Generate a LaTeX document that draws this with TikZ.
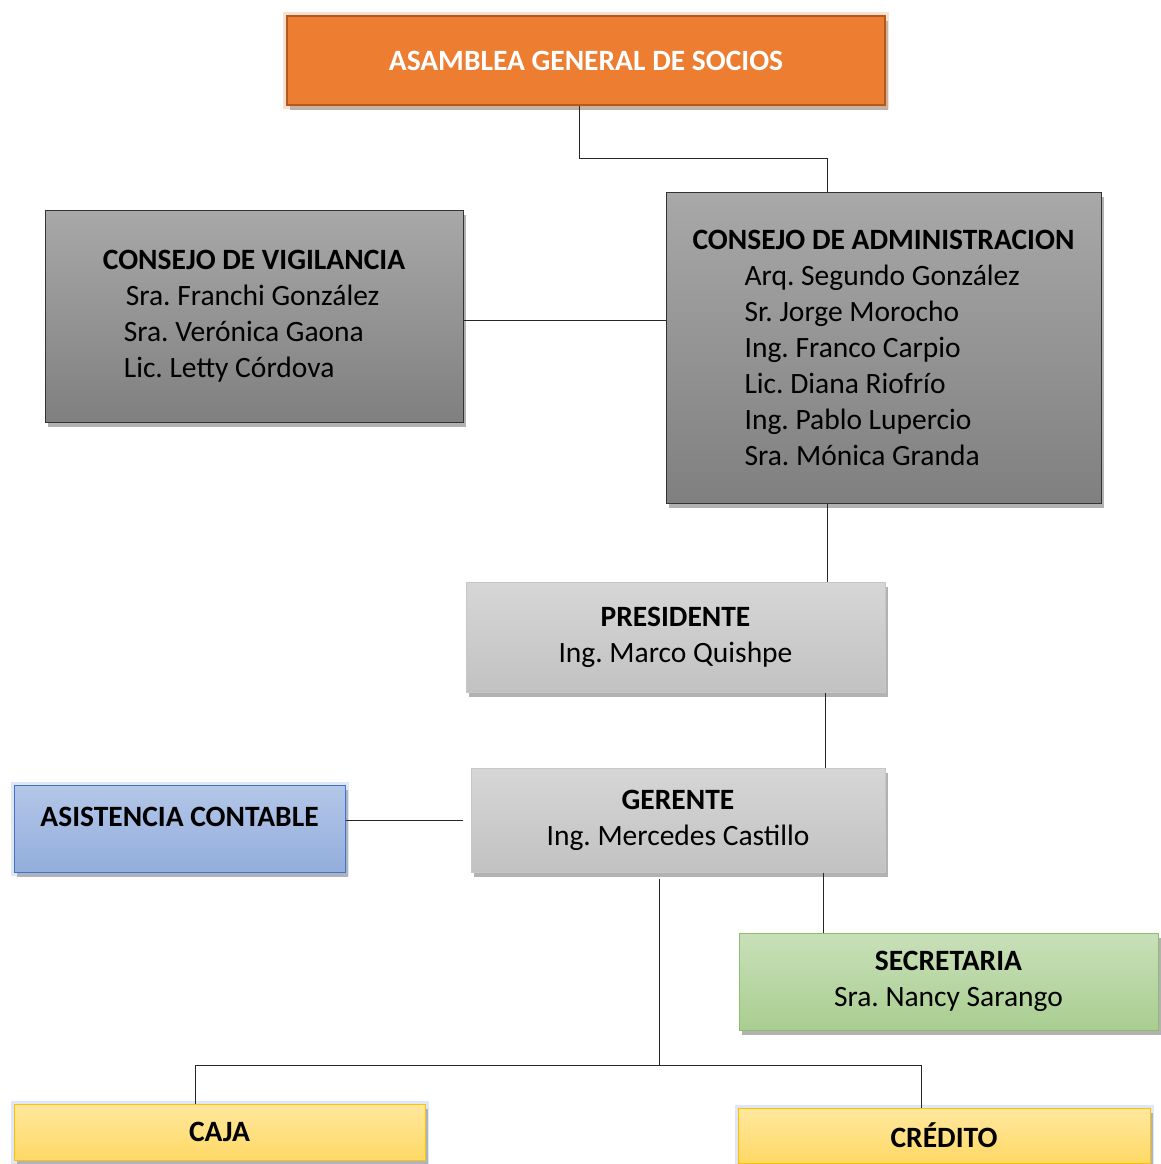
\documentclass[tikz,border=0pt]{standalone}
\usepackage{fontspec}
\setmainfont{Carlito}
\frenchspacing
\usetikzlibrary{positioning,shadows}
\definecolor{headfill}{HTML}{ED7D31}
\definecolor{headline}{HTML}{AE5A21}
\definecolor{blueline}{HTML}{4472C4}
\definecolor{greenline}{HTML}{70AD47}
\definecolor{goldline}{HTML}{FFC000}
\tikzset{
  orgbox/.style={draw, inner sep=0pt, align=center, line width=1pt,
    drop shadow={shadow xshift=3pt, shadow yshift=-5pt, opacity=0.3, fill=black}},
  headbox/.style={orgbox, fill=headfill, draw=headline, line width=1.6pt, text=white,
    font=\fontsize{29.5pt}{36pt}\selectfont\bfseries,
    preaction={draw=headfill!60, line width=8pt, opacity=0.4}},
  darkbox/.style={orgbox, top color=black!34, bottom color=black!50, draw=black!80, align=left},
  lightbox/.style={orgbox, top color=black!16, bottom color=black!24, draw=black!22},
  bluebox/.style={orgbox, top color=blueline!40, bottom color=blueline!58, draw=blueline,
    preaction={draw=blueline!50, line width=7pt, opacity=0.35}},
  greenbox/.style={orgbox, top color=greenline!38, bottom color=greenline!60, draw=greenline!80},
  yellowbox/.style={orgbox, top color=goldline!38, bottom color=goldline!60, draw=goldline,
    preaction={draw=blueline!50, line width=7pt, opacity=0.35}},
  link/.style={draw=black!85, line width=0.9pt}
}

\begin{document}
\begin{tikzpicture}[x=1pt, y=-1pt, every node/.style={font=\fontsize{29.5pt}{36pt}\selectfont}]
  \useasboundingbox (0,0) rectangle (1160,1164);
  % boxes
  \node[headbox, minimum width=598pt, minimum height=89pt] (asamblea) at (586,60.5) {ASAMBLEA GENERAL DE SOCIOS};
  \node[darkbox, minimum width=418pt, minimum height=212pt] (vigilancia) at (254,316)
    {\textbf{CONSEJO DE VIGILANCIA}\\ \hspace*{23pt}Sra. Franchi González\\ \hspace*{21pt}Sra. Verónica Gaona\\ \hspace*{21pt}Lic. Letty Córdova};
  \node[darkbox, minimum width=435pt, minimum height=311pt] (admin) at (883.5,347.5)
    {\textbf{CONSEJO DE ADMINISTRACION}\\ \hspace*{52pt}Arq. Segundo González\\ \hspace*{52pt}Sr. Jorge Morocho\\
     \hspace*{52pt}Ing. Franco Carpio\\ \hspace*{52pt}Lic. Diana Riofrío\\ \hspace*{52pt}Ing. Pablo Lupercio\\ \hspace*{52pt}Sra. Mónica Granda};
  \node[lightbox, minimum width=419pt, minimum height=110pt] (presidente) at (675.5,637)
    {\textbf{PRESIDENTE}\\ Ing. Marco Quishpe};
  \node[lightbox, minimum width=414pt, minimum height=104pt] (gerente) at (678,820)
    {\textbf{GERENTE}\\ Ing. Mercedes Castillo};
  \node[bluebox, minimum width=331pt, minimum height=87pt, text depth=24pt] (contable) at (179.5,828.5)
    {\textbf{ASISTENCIA CONTABLE}};
  \node[greenbox, minimum width=419pt, minimum height=97pt] (secretaria) at (948.5,981.5)
    {\textbf{SECRETARIA}\\ Sra. Nancy Sarango};
  \node[yellowbox, minimum width=411pt, minimum height=56pt] (caja) at (219.5,1132) {\textbf{CAJA}};
  \node[yellowbox, minimum width=412pt, minimum height=55pt] (credito) at (944,1135.5) {\textbf{CRÉDITO}};

  % connectors
  \coordinate (split) at (659,1065);
  \draw[link] ([xshift=-7pt]asamblea.south) -- ++(0,53) -| ([xshift=-56.5pt]admin.north);
  \draw[link] (vigilancia.east |- 0,320) -- (admin.west |- 0,320);
  \draw[link] ([xshift=-56.5pt]admin.south) -- ([xshift=151.5pt]presidente.north);
  \draw[link] ([xshift=149.5pt]presidente.south) -- ([xshift=147pt]gerente.north);
  \draw[link] (contable.east |- 0,820) -- ([xshift=-8pt]gerente.west |- 0,820);
  \draw[link] ([xshift=145pt]gerente.south) -- (secretaria.north -| 823,0);
  \draw[link] ([xshift=-19pt, yshift=-6pt]gerente.south) -- (split);
  \draw[link] (split) -| ([xshift=-24.5pt]caja.north);
  \draw[link] (split) -| ([xshift=-23pt]credito.north);
\end{tikzpicture}
\end{document}
